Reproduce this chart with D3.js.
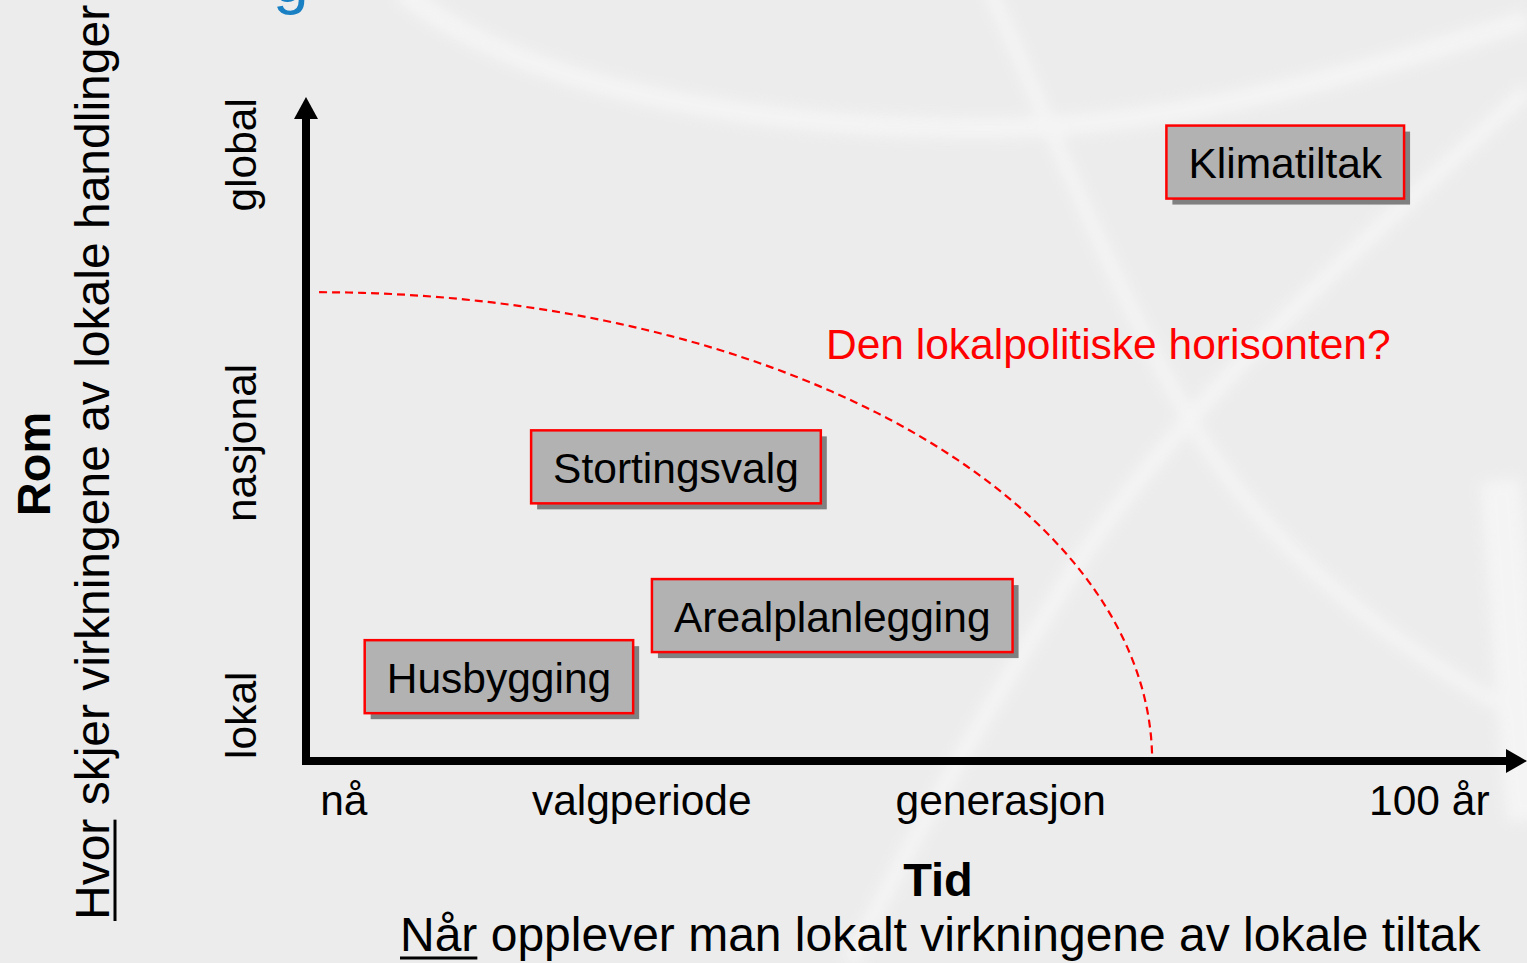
<!DOCTYPE html>
<html>
<head>
<meta charset="utf-8">
<script src="https://cdn.jsdelivr.net/npm/d3@7"></script>
<style>
  html, body { margin: 0; padding: 0; background: #ececec; overflow: hidden; }
  svg { display: block; }
  text { font-family: "Liberation Sans", Arial, sans-serif; }
</style>
</head>
<body>
<svg id="chart" width="1527" height="963"></svg>
<script>
// ---- data ----
const timeLabels = ["nå", "valgperiode", "generasjon", "100 år"];
const timeValues = [3.1, 27.5, 56.9, 92.0];          // position on time axis (0–100)
const spaceLabels = ["lokal", "nasjonal", "global"];
const spaceValues = [6.9, 47.9, 91.3];               // position on space axis (0–100)
const measureNames = ["Husbygging", "Arealplanlegging", "Stortingsvalg", "Klimatiltak"];
const measureTime = [15.8, 43.1, 30.3, 80.2];
const measureSpace = [12.7, 21.9, 44.3, 90.2];
const horizonTime = 69.3;     // where the horizon meets the time axis
const horizonSpace = 70.6;    // where the horizon meets the space axis
const horizonStart = 1.07;
const horizonLabel = "Den lokalpolitiske horisonten?";
const yTitle = "Rom";
const yQuestionU = "Hvor";
const yQuestionRest = " skjer virkningene av lokale handlinger";
const xTitle = "Tid";
const xQuestionU = "Når";
const xQuestionRest = " opplever man lokalt virkningene av lokale tiltak";

// ---- layout ----
const W = 1527, H = 963;
const FS = 42.5;
const svg = d3.select("#chart");
const x = d3.scaleLinear().domain([0, 100]).range([306, 1527]);
const y = d3.scaleLinear().domain([0, 100]).range([761, 97]);

// background texture hints
const defs = svg.append("defs");
defs.append("filter").attr("id", "blur").append("feGaussianBlur").attr("stdDeviation", 7);
svg.append("rect").attr("width", W).attr("height", H).attr("fill", "#ececec");
const bg = svg.append("g").attr("filter", "url(#blur)").attr("fill", "none").attr("stroke", "#f7f7f7").attr("opacity", 0.8);
bg.append("path").attr("d", "M400,-10 C520,90 760,130 1000,128 C1200,126 1400,60 1527,20").attr("stroke-width", 20);
bg.append("path").attr("d", "M990,-10 C1060,150 1120,300 1190,420 C1260,540 1380,640 1527,720").attr("stroke-width", 14);
bg.append("path").attr("d", "M1527,90 C1380,230 1200,380 1080,560 C980,720 900,860 850,963").attr("stroke-width", 16);
bg.append("path").attr("d", "M1500,480 C1510,600 1515,700 1527,820").attr("stroke-width", 40);

// partial blue title glyph at the top (cut off, as in the source slide)
svg.append("text").attr("x", 273).attr("y", 2).attr("font-size", 64)
  .attr("fill", "#1a80c4").text("g");

// dashed horizon curve (quarter ellipse)
const cx0 = x(horizonStart), cy0 = y(0);
const rx = x(horizonTime) - cx0, ry = cy0 - y(horizonSpace);
const angles = d3.range(0, 91, 1).map(d => d * Math.PI / 180);
svg.append("path")
  .datum(angles)
  .attr("fill", "none").attr("stroke", "#ff0000").attr("stroke-width", 2.2)
  .attr("stroke-dasharray", "8,5")
  .attr("d", d3.line().x(a => cx0 + rx * Math.sin(a)).y(a => cy0 - ry * Math.cos(a)));

svg.append("text").attr("x", 826).attr("y", 359).attr("font-size", FS)
  .attr("fill", "#ff0000").text(horizonLabel);

// axes with arrowheads
svg.append("line").attr("x1", x(0)).attr("x2", x(0)).attr("y1", y(0) + 4).attr("y2", y(97))
  .attr("stroke", "#000").attr("stroke-width", 8);
svg.append("line").attr("x1", x(0) - 4).attr("x2", x(98.4)).attr("y1", y(0)).attr("y2", y(0))
  .attr("stroke", "#000").attr("stroke-width", 8);
svg.append("path").attr("fill", "#000")
  .attr("d", `M${x(0)},${y(100)} L${x(0) + 12},${y(100) + 22} L${x(0) - 12},${y(100) + 22} Z`);
svg.append("path").attr("fill", "#000")
  .attr("d", `M${x(100)},${y(0)} L${x(100) - 21},${y(0) - 12} L${x(100) - 21},${y(0) + 12} Z`);

// x tick labels
svg.append("g").selectAll("text").data(timeLabels).join("text")
  .attr("x", (d, i) => x(timeValues[i])).attr("y", 815)
  .attr("text-anchor", "middle").attr("font-size", FS).attr("fill", "#000")
  .text(d => d);

// y tick labels (rotated)
svg.append("g").selectAll("text").data(spaceLabels).join("text")
  .attr("transform", (d, i) => `translate(256,${y(spaceValues[i])}) rotate(-90)`)
  .attr("text-anchor", "middle").attr("font-size", FS).attr("fill", "#000")
  .text(d => d);

// measure boxes
const boxes = svg.append("g").selectAll("g").data(measureNames).join("g")
  .attr("transform", (d, i) => `translate(${x(measureTime[i])},${y(measureSpace[i])})`);
boxes.each(function(d) {
  const g = d3.select(this);
  const shadow = g.append("rect").attr("fill", "#808080");
  const box = g.append("rect").attr("fill", "#b2b2b2").attr("stroke", "#ff0000").attr("stroke-width", 2.5);
  const t = g.append("text").attr("text-anchor", "middle").attr("y", 16)
    .attr("font-size", FS).attr("fill", "#000").text(d);
  const w = t.node().getComputedTextLength() + 44;
  const h = 73;
  box.attr("x", -w / 2).attr("y", -h / 2).attr("width", w).attr("height", h);
  shadow.attr("x", -w / 2 + 6).attr("y", -h / 2 + 6).attr("width", w).attr("height", h);
});

// y axis titles
svg.append("text").attr("transform", `translate(50,464) rotate(-90)`)
  .attr("text-anchor", "middle").attr("font-size", 47).attr("font-weight", "bold")
  .attr("fill", "#000").text(yTitle);
const yq = svg.append("text").attr("transform", `translate(109,920) rotate(-90)`)
  .attr("font-size", 48).attr("fill", "#000");
yq.append("tspan").text(yQuestionU);
yq.append("tspan").text(yQuestionRest);
const yqU = yq.node().getSubStringLength(0, yQuestionU.length);
svg.append("line").attr("x1", 115).attr("x2", 115).attr("y1", 921).attr("y2", 921 - yqU)
  .attr("stroke", "#000").attr("stroke-width", 3);

// x axis titles
svg.append("text").attr("x", 938).attr("y", 896).attr("text-anchor", "middle")
  .attr("font-size", 47).attr("font-weight", "bold").attr("fill", "#000").text(xTitle);
const xq = svg.append("text").attr("x", 400).attr("y", 951)
  .attr("font-size", 48).attr("fill", "#000");
xq.append("tspan").text(xQuestionU);
xq.append("tspan").text(xQuestionRest);
const xqU = xq.node().getSubStringLength(0, xQuestionU.length);
svg.append("line").attr("x1", 400).attr("x2", 400 + xqU).attr("y1", 958).attr("y2", 958)
  .attr("stroke", "#000").attr("stroke-width", 3);
</script>
</body>
</html>
